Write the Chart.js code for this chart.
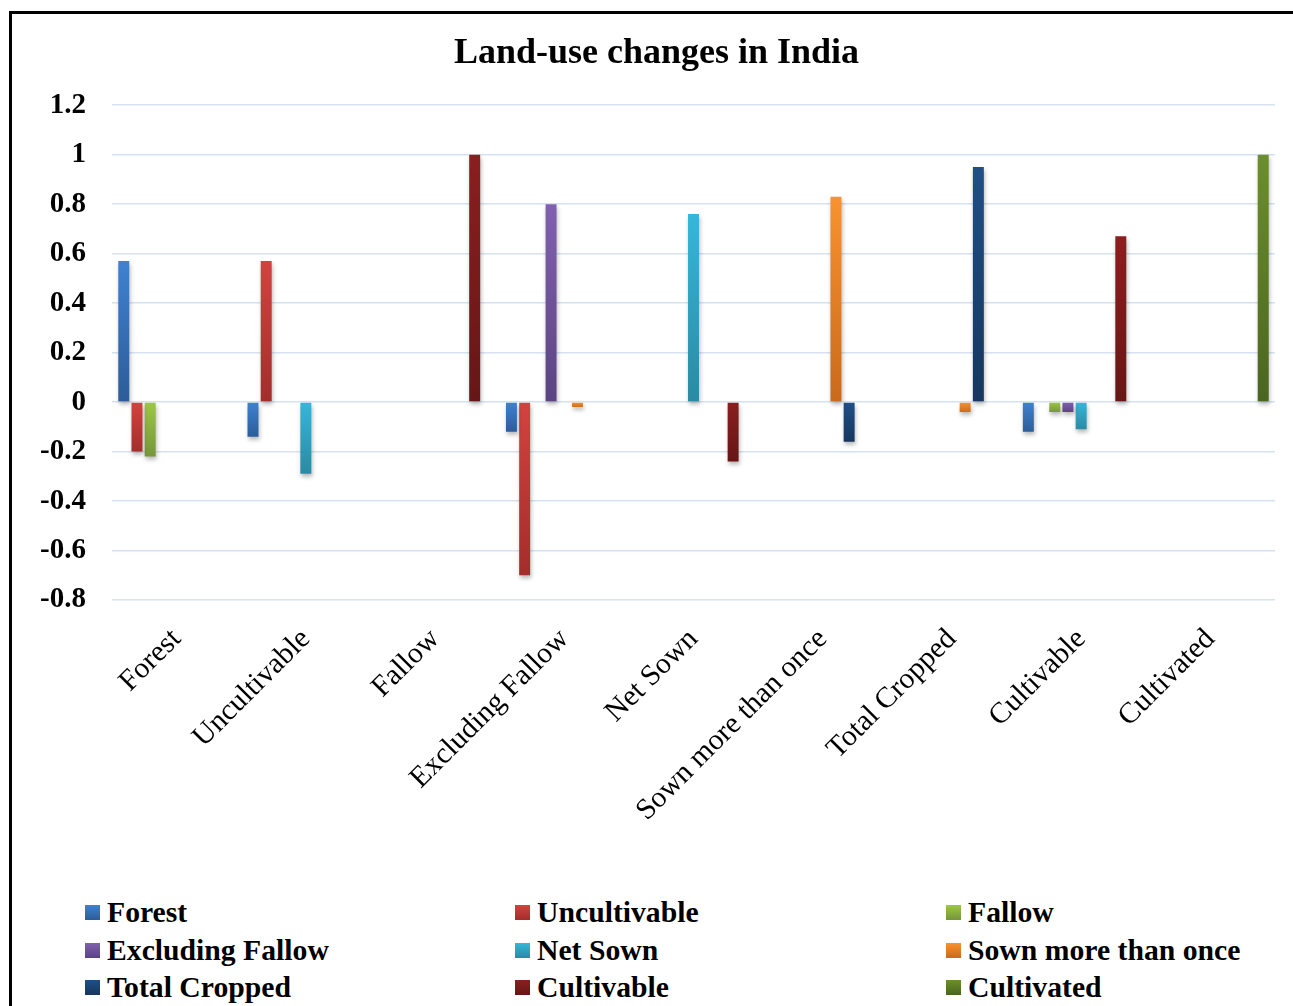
<!DOCTYPE html>
<html>
<head>
<meta charset="utf-8">
<script src="https://cdn.jsdelivr.net/npm/chart.js@4.4.1/dist/chart.umd.min.js"></script>
<style>
  html, body { margin: 0; padding: 0; background: #fff; overflow: hidden; }
  body { width: 1293px; height: 1006px; position: relative; }
  #frame { position: absolute; left: 9px; top: 11px; width: 1400px; height: 1100px;
           border-left: 3px solid #000; border-top: 3px solid #000; box-sizing: border-box; }
  #c { position: absolute; left: 0; top: 0; }
  .lg { position: absolute; display: flex; align-items: center; height: 36px;
        font-family: 'Liberation Serif', 'Times New Roman', serif; font-weight: bold;
        font-size: 29.7px; color: #000; white-space: nowrap; }
  .sw { width: 15px; height: 15px; margin-right: 7px; flex: none; }
</style>
</head>
<body>
<div id="frame"></div>
<canvas id="c" width="1293" height="880"></canvas>
<div id="legend"></div>
<script>
// ---- data ----
const categories = ['Forest', 'Uncultivable', 'Fallow', 'Excluding Fallow', 'Net Sown',
                    'Sown more than once', 'Total Cropped', 'Cultivable', 'Cultivated'];
const seriesNames = ['Forest', 'Uncultivable', 'Fallow', 'Excluding Fallow', 'Net Sown',
                     'Sown more than once', 'Total Cropped', 'Cultivable', 'Cultivated'];
const forestValues          = [0.57, -0.14, null, -0.12, null, null, null, -0.12, null];
const uncultivableValues    = [-0.20, 0.57, null, -0.70, null, null, null, null, null];
const fallowValues          = [-0.22, null, null, null, null, null, null, -0.04, null];
const excludingFallowValues = [null, null, null, 0.80, null, null, null, -0.04, null];
const netSownValues         = [null, -0.29, null, null, 0.76, null, null, -0.11, null];
const sownMoreValues        = [null, null, null, -0.02, null, 0.83, -0.04, null, null];
const totalCroppedValues    = [null, null, null, null, null, -0.16, 0.95, null, null];
const cultivableValues      = [null, null, 1.00, null, -0.24, null, null, 0.67, null];
const cultivatedValues      = [null, null, null, null, null, null, null, null, 1.00];
const yTicks = [-0.8, -0.6, -0.4, -0.2, 0, 0.2, 0.4, 0.6, 0.8, 1, 1.2];

// ---- styles ----
const seriesValues = [forestValues, uncultivableValues, fallowValues, excludingFallowValues,
  netSownValues, sownMoreValues, totalCroppedValues, cultivableValues, cultivatedValues];
const lightColors = ['#3f82d0', '#d24340', '#9dc746', '#8160b0', '#35b7da', '#f9922f', '#1f4f86', '#8a1f1f', '#6b8f2a'];
const darkColors  = ['#2c5c98', '#a32d2b', '#76953a', '#5b4482', '#2a8aa2', '#c96a1c', '#16365e', '#661616', '#4a6520'];
const serif = "'Liberation Serif', 'Times New Roman', serif";

function barFill(i) {
  return (ctx) => {
    const chart = ctx.chart;
    if (!chart.chartArea || ctx.type !== 'data' || ctx.raw == null) return lightColors[i];
    const ys = chart.scales.y;
    const a = ys.getPixelForValue(0), b = ys.getPixelForValue(ctx.raw);
    const top = Math.min(a, b), bot = Math.max(a, b) + 0.5;
    const g = chart.ctx.createLinearGradient(0, top, 0, bot);
    g.addColorStop(0, lightColors[i]);
    g.addColorStop(1, darkColors[i]);
    return g;
  };
}

const datasets = seriesNames.map((name, i) => ({
  label: name,
  data: seriesValues[i],
  backgroundColor: barFill(i),
  borderWidth: 0,
  categoryPercentage: 0.92,
  barPercentage: 0.83
}));

const shadowPlugin = {
  id: 'barShadow',
  beforeDatasetsDraw(chart) {
    const c = chart.ctx; c.save();
    c.shadowColor = 'rgba(0,0,0,0.28)'; c.shadowBlur = 4; c.shadowOffsetX = 1; c.shadowOffsetY = 3;
  },
  afterDatasetsDraw(chart) { chart.ctx.restore(); }
};

new Chart(document.getElementById('c'), {
  type: 'bar',
  data: { labels: categories, datasets },
  plugins: [shadowPlugin],
  options: {
    responsive: false,
    animation: false,
    layout: { padding: { left: 38, right: 18, top: 0, bottom: 0 } },
    plugins: {
      legend: { display: false },
      tooltip: { enabled: false },
      title: {
        display: true,
        text: 'Land-use changes in India',
        color: '#000',
        font: { family: serif, size: 36, weight: 'bold' },
        padding: { top: 32, bottom: 30 }
      }
    },
    scales: {
      x: {
        grid: { display: false, drawTicks: false },
        border: { display: false },
        ticks: {
          color: '#000', font: { family: serif, size: 29.5 },
          maxRotation: 45, minRotation: 45, autoSkip: false, padding: 22
        },
        afterFit(scale) { scale.height = 280; }
      },
      y: {
        min: -0.8, max: 1.2,
        afterBuildTicks(scale) { scale.ticks = yTicks.map(v => ({ value: v })); },
        grid: { color: '#d6e1f1', lineWidth: 1.5, drawTicks: false },
        border: { display: false },
        ticks: {
          color: '#000', font: { family: serif, size: 29, weight: 'bold' }, padding: 26,
          callback: (v) => String(Math.round(v * 10) / 10)
        },
        afterFit(scale) { scale.width = 74; }
      }
    }
  }
});

// ---- legend (HTML) ----
const legend = document.getElementById('legend');
const colX = [85, 515, 946];
const rowY = [894, 932, 969];
seriesNames.forEach((name, i) => {
  const d = document.createElement('div');
  d.className = 'lg';
  d.style.left = colX[i % 3] + 'px';
  d.style.top = rowY[Math.floor(i / 3)] + 'px';
  const s = document.createElement('span');
  s.className = 'sw';
  s.style.background = 'linear-gradient(' + lightColors[i] + ',' + darkColors[i] + ')';
  const t = document.createElement('span');
  t.textContent = name;
  d.appendChild(s); d.appendChild(t);
  legend.appendChild(d);
});
</script>
</body>
</html>
